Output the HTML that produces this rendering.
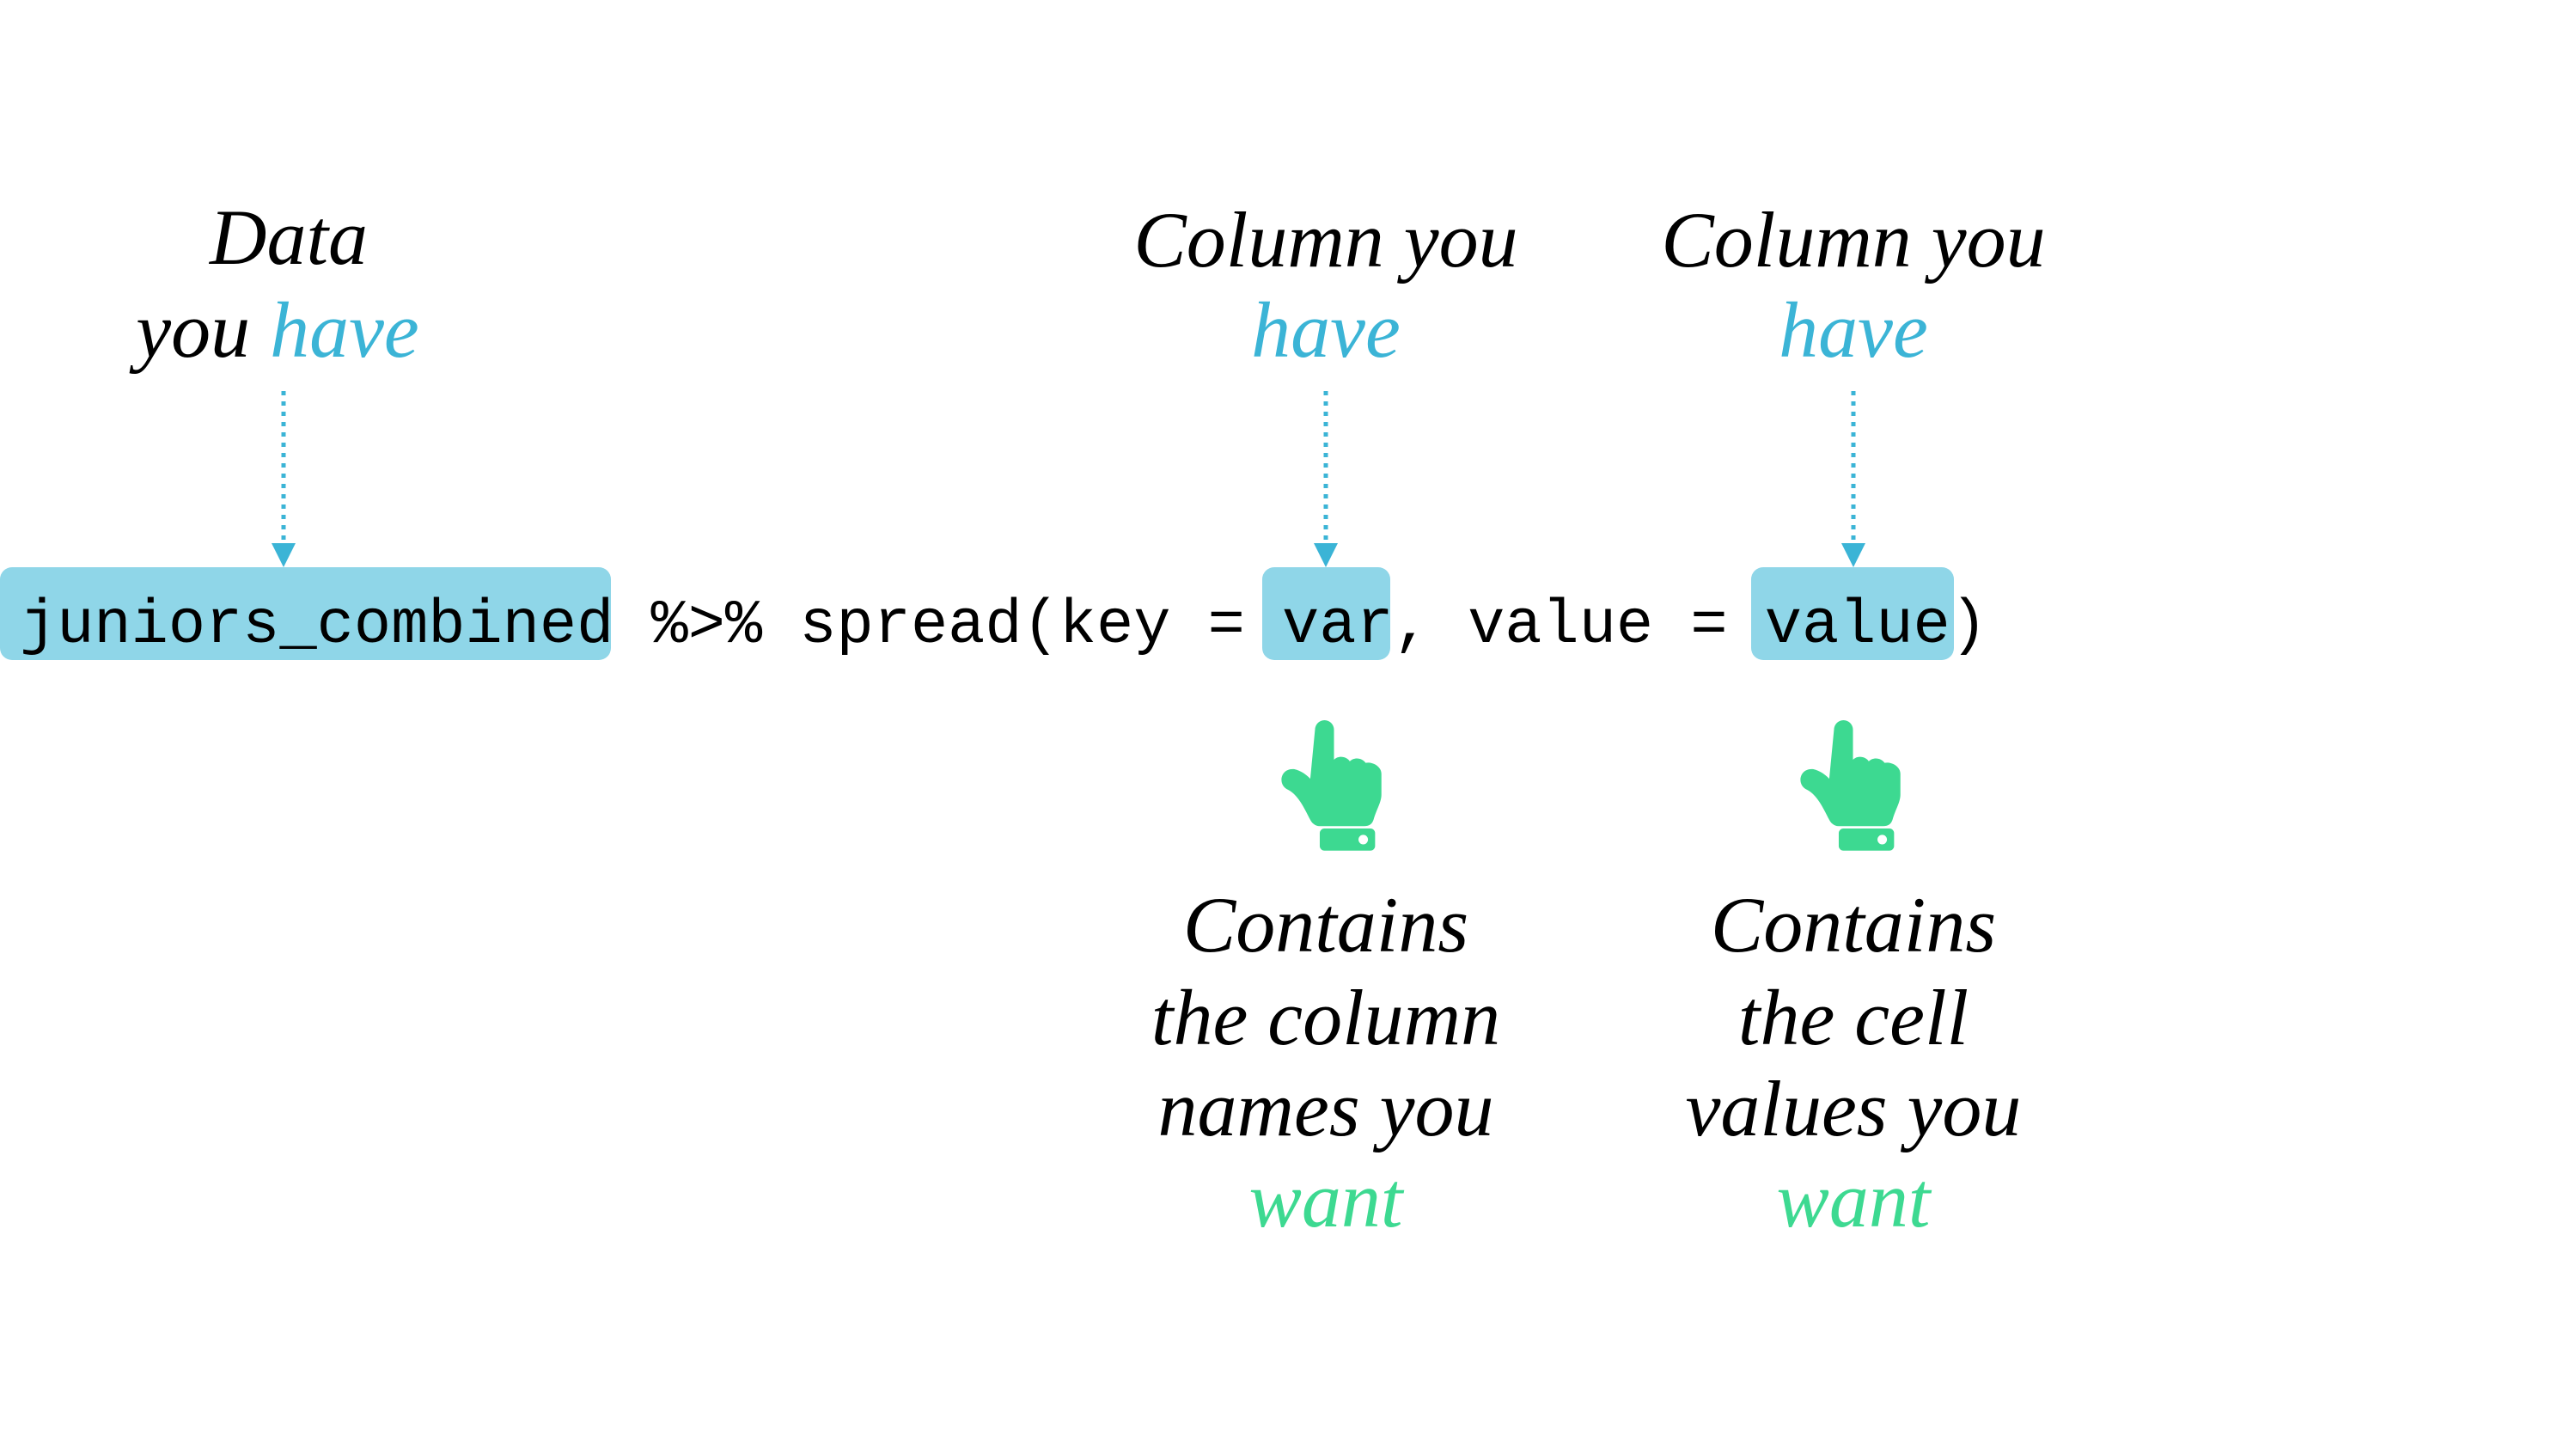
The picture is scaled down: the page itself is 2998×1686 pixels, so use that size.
<!DOCTYPE html>
<html><head><meta charset="utf-8"><style>
html,body{margin:0;padding:0;background:#fff}
body{width:2998px;height:1686px;position:relative;overflow:hidden}
.t{position:absolute;font-family:"Liberation Serif",serif;font-style:italic;font-size:92px;color:#000;white-space:nowrap;transform:translateX(-50%);line-height:1}
.b{color:#3bb4d6}.g{color:#3dd991}
.box{position:absolute;background:#8fd6e8;border-radius:14px;top:660px;height:108px}
.code{position:absolute;left:23px;top:678px;font-family:"Liberation Mono",monospace;font-size:72px;line-height:100px;white-space:pre;color:#000}
</style></head><body>
<div class="box" style="left:0;width:711px"></div>
<div class="box" style="left:1469px;width:149px"></div>
<div class="box" style="left:2038px;width:236px"></div>
<div class="code">juniors_combined %&gt;% spread(key = var, value = value)</div>

<div class="t" style="left:336px;top:230px">Data</div>
<div class="t" style="left:323px;top:338px">you <span class="b">have</span></div>
<div class="t" style="left:1543px;top:233px">Column you</div>
<div class="t b" style="left:1543px;top:338px">have</div>
<div class="t" style="left:2157px;top:233px">Column you</div>
<div class="t b" style="left:2157px;top:338px">have</div>

<div class="t" style="left:1543px;top:1030px">Contains</div>
<div class="t" style="left:1543px;top:1138px">the column</div>
<div class="t" style="left:1543px;top:1244px">names you</div>
<div class="t g" style="left:1543px;top:1350px">want</div>
<div class="t" style="left:2157px;top:1030px">Contains</div>
<div class="t" style="left:2157px;top:1138px">the cell</div>
<div class="t" style="left:2157px;top:1244px">values you</div>
<div class="t g" style="left:2157px;top:1350px">want</div>

<svg width="2998" height="1686" style="position:absolute;left:0;top:0">
<g stroke="#3bb4d6" stroke-width="5" stroke-dasharray="5,7">
<line x1="330" y1="455" x2="330" y2="635"/>
<line x1="1543" y1="455" x2="1543" y2="635"/>
<line x1="2157" y1="455" x2="2157" y2="635"/>
</g>
<g fill="#3bb4d6">
<polygon points="316,632 344,632 330,660"/>
<polygon points="1529,632 1557,632 1543,660"/>
<polygon points="2143,632 2171,632 2157,660"/>
</g>
<defs><g id="hand">
<path d="M57 12 a12 12 0 0 1 24 0 v38 c6 -6 16 -4 20 2 c6 -6 16 -4 20 2 c8 -2 20 4 20 14 v26 c0 10 -6 18 -10 32 c-2 6 -6 8 -12 8 h-56 c-6 0 -10 -4 -12 -8 c-8 -16 -16 -32 -28 -38 c-14 -6 -10 -28 8 -26 c8 2 14 6 20 12 z" fill="#3dd991"/>
<rect x="63" y="137" width="70" height="28" rx="6" fill="#3dd991"/>
<circle cx="118" cy="151" r="6" fill="#fff"/>
</g></defs>
<g transform="translate(1478,838) scale(0.92)"><use href="#hand"/></g>
<g transform="translate(2082,838) scale(0.92)"><use href="#hand"/></g>
</svg>
</body></html>
